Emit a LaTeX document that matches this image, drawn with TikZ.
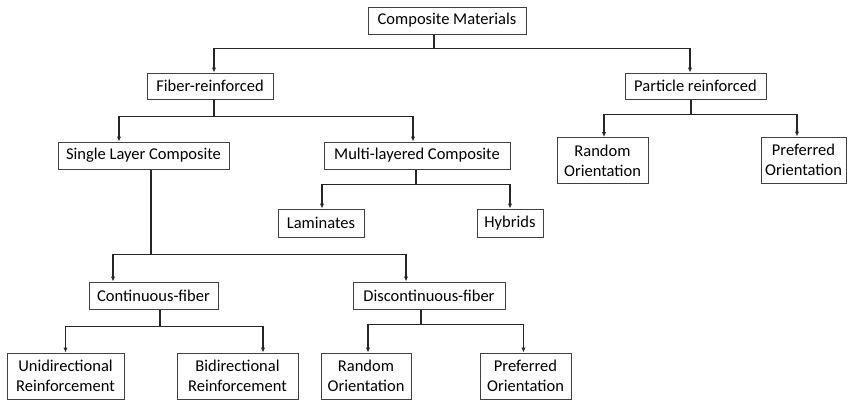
\documentclass[tikz,border=0pt]{standalone}
\usepackage{fontspec}
\setmainfont{Carlito}
\usetikzlibrary{arrows.meta}
\tikzset{
  box/.style={draw=black!75, line width=1pt, rectangle, inner sep=0pt, minimum height=27pt, align=center,
    font=\fontsize{16.5}{20}\selectfont},
  twoline/.style={minimum height=46pt},
  link/.style={draw=black!85, line width=1.1pt},
  arr/.style={link, -{Latex[length=5pt,width=4.5pt]}}
}
\begin{document}
\begin{tikzpicture}[x=1pt, y=-1pt]
            \useasboundingbox (0,0) rectangle (848,399);
            \node[box, minimum width=158pt] (comp) at (447,20.5) {Composite Materials};
            \node[box, minimum width=126pt, minimum height=26pt] (fiber) at (210,86) {Fiber-reinforced};
            \node[box, minimum width=141pt, minimum height=26pt] (part) at (695.5,86) {Particle reinforced};
            \node[box, minimum width=171pt] (single) at (143.5,155.5) {Single Layer Composite};
            \node[box, minimum width=186pt] (multi) at (417,155.5) {Multi-layered Composite};
            \node[box, twoline, minimum width=91pt] (prand) at (602.5,160.5) {Random\\Orientation};
            \node[box, twoline, minimum width=85pt] (ppref) at (803.5,160) {Preferred\\Orientation};
            \node[box, minimum width=86pt, minimum height=28pt] (lam) at (321,223) {Laminates};
            \node[box, minimum width=66pt, minimum height=28pt] (hyb) at (510,223) {Hybrids};
            \node[box, minimum width=129pt] (cont) at (153.5,295.5) {Continuous-fiber};
            \node[box, minimum width=152pt] (disc) at (429,295.5) {Discontinuous-fiber};
            \node[box, twoline, minimum width=117pt] (uni) at (65.5,376) {Unidirectional\\Reinforcement};
            \node[box, twoline, minimum width=121pt] (bi) at (237.5,376) {Bidirectional\\Reinforcement};
            \node[box, twoline, minimum width=90pt] (drand) at (366,376) {Random\\Orientation};
            \node[box, twoline, minimum width=91pt] (dpref) at (525.5,376) {Preferred\\Orientation};
            % top level
            \draw[link] ([xshift=-13pt]comp.south) -- ++(0,14) coordinate (c0);
            \draw[arr] (c0) -| ([xshift=4pt]fiber.north);
            \draw[arr] (c0) -| ([xshift=-5.5pt]part.north);
            % fiber-reinforced
            \draw[link] ([xshift=4pt]fiber.south) -- ++(0,17) coordinate (c1);
            \draw[arr] (c1) -| ([xshift=-24.5pt]single.north);
            \draw[arr] (c1) -| ([xshift=-4pt]multi.north);
            % particle reinforced
            \draw[link] ([xshift=-4.5pt]part.south) -- ++(0,15) coordinate (c2);
            \draw[arr] (c2) -| ([xshift=1.5pt]prand.north);
            \draw[arr] (c2) -| ([xshift=-6.5pt]ppref.north);
            % multi-layered
            \draw[link] ([xshift=-1pt]multi.south) -- ++(0,15) coordinate (c3);
            \draw[arr] (c3) -| ([xshift=1pt]lam.north);
            \draw[arr] (c3) -| (hyb.north);
            % single layer
            \draw[link] ([xshift=7.5pt]single.south) -- ++(0,85) coordinate (c4);
            \draw[arr] (c4) -| ([xshift=-40.5pt]cont.north);
            \draw[arr] (c4) -| ([xshift=-23pt]disc.north);
            % continuous
            \draw[link] ([xshift=6.5pt]cont.south) -- ++(0,17) coordinate (c5);
            \draw[arr] (c5) -| (uni.north);
            \draw[arr] (c5) -| ([xshift=25.5pt]bi.north);
            % discontinuous
            \draw[link] ([xshift=-8pt]disc.south) -- ++(0,15) coordinate (c6);
            \draw[arr] (c6) -| ([xshift=2pt]drand.north);
            \draw[arr] (c6) -| ([xshift=-2pt]dpref.north);
\end{tikzpicture}
\end{document}
